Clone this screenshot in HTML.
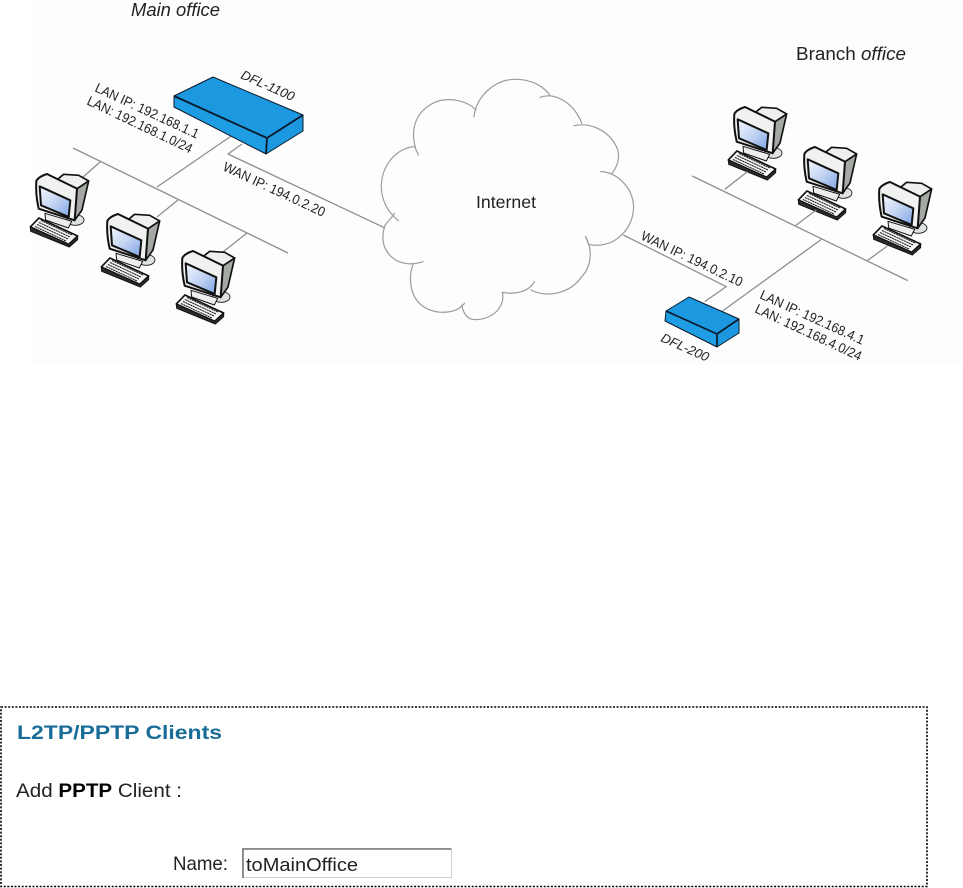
<!DOCTYPE html>
<html>
<head>
<meta charset="utf-8">
<style>
html,body{margin:0;padding:0;background:#fff;width:963px;height:888px;overflow:hidden}
svg{display:block;position:absolute;left:0;top:0}
text{font-family:"Liberation Sans",sans-serif;fill:#222}
</style>
</head>
<body>
<svg width="963" height="888" viewBox="0 0 963 888" xmlns="http://www.w3.org/2000/svg">
<defs>
<linearGradient id="scr" x1="0" y1="0" x2="1" y2="1">
<stop offset="0" stop-color="#f4f7fd"/><stop offset="0.5" stop-color="#c3d4f3"/><stop offset="1" stop-color="#7ea3e4"/>
</linearGradient>
<g id="pc" transform="scale(0.3333)" stroke="#111" stroke-linejoin="round" stroke-linecap="round">
<ellipse cx="226" cy="660" rx="26" ry="16" fill="#dfe3df" stroke-width="2.5"/>
<path d="M135,640 L137,660 L205,684 L215,664 Z" fill="#eceeec" stroke-width="3"/>
<path d="M231,566 L266,543 L246,630 L224,661 Z" fill="#a4a9a4" stroke-width="5"/>
<path d="M191,523 L236,526 L266,543 L231,566 L170,540 Z" fill="#eef0ee" stroke-width="5"/>
<path d="M109,543 C113,534 127,526 141,522 L231,566 L224,661 L116,626 C110,600 107,570 109,543 Z" fill="#f0f2f0" stroke-width="6"/>
<path d="M119,559 L211,601 L206,651 L123,616 Z" fill="url(#scr)" stroke-width="6"/>
<path d="M91,681 L117,654 L233,708 L206,733 Z" fill="#f6f6f6" stroke-width="5"/>
<path d="M91,681 L92,694 L208,741 L233,719 L233,708 L206,733 Z" fill="#2c2c2c" stroke-width="3"/>
<g fill="none" stroke="#222" stroke-width="3.2" stroke-dasharray="4 4">
<path d="M124,662 L218,706"/><path d="M118,668 L212,712"/><path d="M112,674 L206,718"/><path d="M106,680 L200,724"/>
</g>
</g>
</defs>

<rect x="30" y="0" width="933" height="365" fill="#fdfdfd"/>

<!-- main office connectors -->
<g stroke="#8f8f8f" stroke-width="1.3" fill="none" stroke-linejoin="round">
<path d="M73,148 L288,253"/>
<path d="M157,187 L237,132"/>
<path d="M100,162 L82,178"/>
<path d="M178,200 L157,217"/>
<path d="M247,233 L223,252"/>
<path d="M242,144 L228,154 L385,228"/>
</g>

<!-- main router -->
<g stroke="#0a1a2a" stroke-linejoin="round">
<path d="M174,96 L213,77 L303,115 L267,138 Z" fill="#1b98e0" stroke-width="1"/>
<path d="M174,96 L267,138 L266,154 L174,107 Z" fill="#1e9ce4" stroke-width="1"/>
<path d="M267,138 L303,115 L303,131 L266,154 Z" fill="#1b98e0" stroke-width="1"/>
<path d="M174,96 L267,138 L303,115" fill="none" stroke-width="1.8"/>
<path d="M267,138 L266,154" stroke-width="1.8"/>
</g>

<use href="#pc"/>
<use href="#pc" x="71" y="40"/>
<use href="#pc" x="146" y="77"/>
<use href="#pc" x="698" y="-67"/>
<use href="#pc" x="768" y="-27"/>
<use href="#pc" x="843" y="8"/>

<!-- cloud and branch, in zoom coordinates -->
<g transform="translate(370,60) scale(0.3782,0.3333)">
<g fill="none" stroke="#9c9c9c" stroke-width="1.2" stroke-linecap="round">
<path vector-effect="non-scaling-stroke" d="M75,482 C40,450 20,400 35,340 C50,290 85,262 118,260 L128,285"/>
<path vector-effect="non-scaling-stroke" d="M120,262 C105,200 125,150 175,125 C215,110 260,125 280,150"/>
<path vector-effect="non-scaling-stroke" d="M275,170 C280,110 330,55 390,58 C430,60 460,80 475,105"/>
<path vector-effect="non-scaling-stroke" d="M450,112 C490,95 540,130 560,190"/>
<path vector-effect="non-scaling-stroke" d="M540,197 C590,185 640,220 655,270 C662,300 650,325 640,340"/>
<path vector-effect="non-scaling-stroke" d="M610,335 C650,335 695,380 697,440 C697,480 680,510 665,525"/>
<path vector-effect="non-scaling-stroke" d="M665,525 C640,555 600,560 578,553 L570,530"/>
<path vector-effect="non-scaling-stroke" d="M570,530 C590,570 585,620 560,650 C530,700 470,715 425,690"/>
<path vector-effect="non-scaling-stroke" d="M435,665 C420,695 385,705 350,697"/>
<path vector-effect="non-scaling-stroke" d="M350,697 C360,750 310,785 270,778 C255,775 245,755 243,735"/>
<path vector-effect="non-scaling-stroke" d="M250,730 C225,765 170,765 135,735 C105,705 100,650 115,610"/>
<path vector-effect="non-scaling-stroke" d="M140,605 C100,620 60,610 40,565 C30,540 35,510 40,495 C50,480 60,470 65,460"/>
</g>
<g stroke="#8f8f8f" fill="none" stroke-linejoin="round">
<path vector-effect="non-scaling-stroke" stroke-width="1.3" d="M852,348 L1422,662"/>
<path vector-effect="non-scaling-stroke" stroke-width="1.3" d="M998,335 L938,388"/>
<path vector-effect="non-scaling-stroke" stroke-width="1.3" d="M1180,450 L1125,497"/>
<path vector-effect="non-scaling-stroke" stroke-width="1.3" d="M1368,558 L1315,602"/>
<path vector-effect="non-scaling-stroke" stroke-width="1.3" d="M1195,537 L930,755"/>
<path vector-effect="non-scaling-stroke" stroke-width="1.3" d="M670,525 L942,680 L885,725"/>
</g>
</g>

<!-- branch router -->
<g stroke="#0a1a2a" stroke-linejoin="round">
<path d="M666,311 L689,297 L739,319 L717,334 Z" fill="#1b98e0" stroke-width="1"/>
<path d="M666,311 L717,334 L717,347 L665,321 Z" fill="#1e9ce4" stroke-width="1"/>
<path d="M717,334 L739,319 L739,333 L717,347 Z" fill="#1b98e0" stroke-width="1"/>
<path d="M666,311 L717,334 L739,319 M717,334 L717,347" fill="none" stroke-width="1.7"/>
</g>

<!-- diagram labels -->
<text x="131" y="16" font-size="18.5" font-style="italic" textLength="89" lengthAdjust="spacingAndGlyphs">Main office</text>
<text x="796" y="60" font-size="18" textLength="110" lengthAdjust="spacingAndGlyphs">Branch <tspan font-style="italic">office</tspan></text>
<text x="476" y="208" font-size="17.5" textLength="60" lengthAdjust="spacingAndGlyphs">Internet</text>

<text transform="translate(94,91) rotate(25)" font-size="13.5" textLength="113" lengthAdjust="spacingAndGlyphs">LAN IP: 192.168.1.1</text>
<text transform="translate(86,104) rotate(25.5)" font-size="13.5" textLength="115" lengthAdjust="spacingAndGlyphs">LAN: 192.168.1.0/24</text>
<text transform="translate(240,78) rotate(24)" font-size="13" font-style="italic" textLength="57" lengthAdjust="spacingAndGlyphs">DFL-1100</text>
<text transform="translate(222,170) rotate(25)" font-size="13.5" textLength="111" lengthAdjust="spacingAndGlyphs">WAN IP: 194.0.2.20</text>
<text transform="translate(640,239) rotate(25.6)" font-size="13.5" textLength="111" lengthAdjust="spacingAndGlyphs">WAN IP: 194.0.2.10</text>
<text transform="translate(759,298) rotate(24.5)" font-size="13.5" textLength="113" lengthAdjust="spacingAndGlyphs">LAN IP: 192.168.4.1</text>
<text transform="translate(754,312) rotate(25)" font-size="13.5" textLength="116" lengthAdjust="spacingAndGlyphs">LAN: 192.168.4.0/24</text>
<text transform="translate(660,341) rotate(24)" font-size="13" font-style="italic" textLength="51" lengthAdjust="spacingAndGlyphs">DFL-200</text>

<!-- lower panel -->
<rect x="1" y="707" width="926" height="179.5" fill="none" stroke="#000" stroke-width="1.6" stroke-dasharray="2 1.6"/>
<text x="17" y="739" font-size="19.5" font-weight="bold" style="fill:#1a6c98" textLength="205" lengthAdjust="spacingAndGlyphs">L2TP/PPTP Clients</text>
<text x="16" y="797" font-size="19.5" textLength="166" lengthAdjust="spacingAndGlyphs">Add <tspan font-weight="bold" style="fill:#000">PPTP</tspan> Client :</text>
<text x="173" y="870" font-size="19.5" textLength="55" lengthAdjust="spacingAndGlyphs">Name:</text>
<rect x="242.5" y="848.5" width="209" height="29" fill="#fff" stroke="#cfcfcf" stroke-width="1"/>
<path d="M243,878 L243,849 L451,849" fill="none" stroke="#777" stroke-width="1.6"/>
<text x="246" y="871" font-size="18.5" textLength="112" lengthAdjust="spacingAndGlyphs">toMainOffice</text>
</svg>
</body>
</html>
